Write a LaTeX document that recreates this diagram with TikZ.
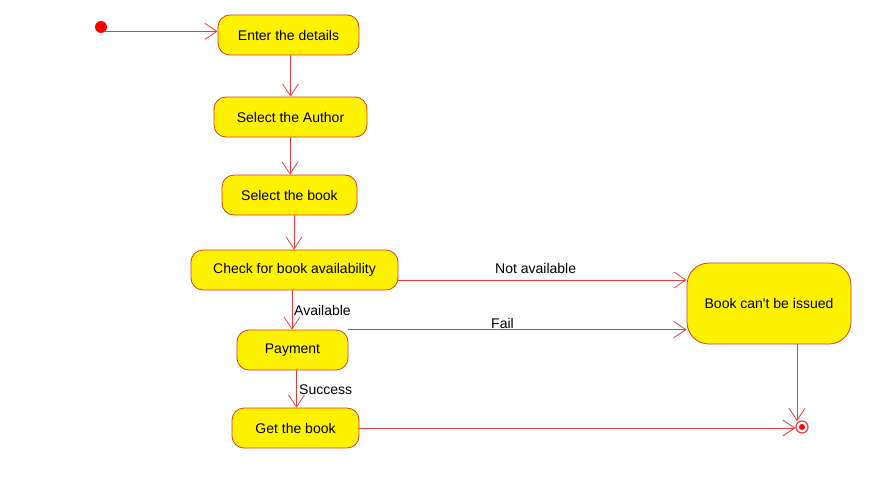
\documentclass[tikz,border=0pt]{standalone}
\usepackage{fontspec}
\setmainfont{Liberation Sans}[Ligatures=TeXOff]
\usetikzlibrary{arrows.meta}
\definecolor{ln}{RGB}{232,60,60}
\definecolor{bd}{RGB}{215,60,40}
\tikzset{
 act/.style={draw=bd, fill=yellow, rounded corners=12pt, minimum height=40pt, inner sep=0pt, font=\fontsize{14}{16}\selectfont, line width=0.8pt},
 flow/.style={draw=ln, line width=0.8pt, -{Straight Barb[length=12pt,width=16pt]}},
 lbl/.style={font=\fontsize{14}{16}\selectfont, inner sep=0pt, text=black, anchor=west}
}
\begin{document}
\begin{tikzpicture}[x=1pt,y=-1pt]
\useasboundingbox[fill=white] (0,0) rectangle (881,495);
\node[circle, fill=red, minimum size=12pt, inner sep=0pt] (start) at (101,27) {};
\node[act, minimum width=141pt] (enter) at (288.5,35) {Enter the details};
\node[act, minimum width=153pt] (author) at (290.5,117) {Select the Author};
\node[act, minimum width=135pt] (book) at (289.5,195) {Select the book};
\node[act, minimum width=207pt] (check) at (294.5,270) {Check for book availability};
\node[act, minimum width=111pt] (pay) at (292.5,350) {Payment};
\node[act, minimum width=127pt] (get) at (295.5,428) {Get the book};
\node[act, minimum width=164pt, minimum height=81pt, rounded corners=22pt] (cant) at (769,303.5) {Book can't be issued};
\node[circle, draw=ln, fill=white, line width=1.2pt, minimum size=12pt, inner sep=0pt] (end) at (802,427) {};
\fill[red] (end.center) circle (3pt);
\coordinate (endtop) at (797,421);

\draw[flow] (start.south east) -- (start.south east -| enter.west);
\draw[flow] ([xshift=2pt]enter.south) -- ([xshift=2pt]enter.south |- author.north);
\draw[flow] ([xshift=-0.5pt]author.south) -- ([xshift=-0.5pt]author.south |- book.north);
\draw[flow] ([xshift=4.5pt]book.south) -- ([xshift=4.5pt]book.south |- check.north);
\draw[flow] ([xshift=-2.5pt]check.south) -- ([xshift=-2.5pt]check.south |- pay.north);
\draw[flow] ([xshift=4pt]pay.south) -- ([xshift=4pt]pay.south |- get.north);
\draw[flow] ([yshift=-10pt]check.east) -- ([yshift=-10pt]check.east -| cant.west);
\draw[flow] (pay.north east) -- (pay.north east -| cant.west);
\draw[flow] (cant.south -| endtop) -- (endtop);
\draw[flow] (get.east) -- (get.east -| end.west);

\node[lbl] (lna) at (495,268) {Not available};
\node[lbl] (lfail) at (491,323) {Fail};
\node[lbl] (lav) at (294,310) {Available};
\node[lbl] (lsu) at (299,390) {Success};
\end{tikzpicture}
\end{document}
